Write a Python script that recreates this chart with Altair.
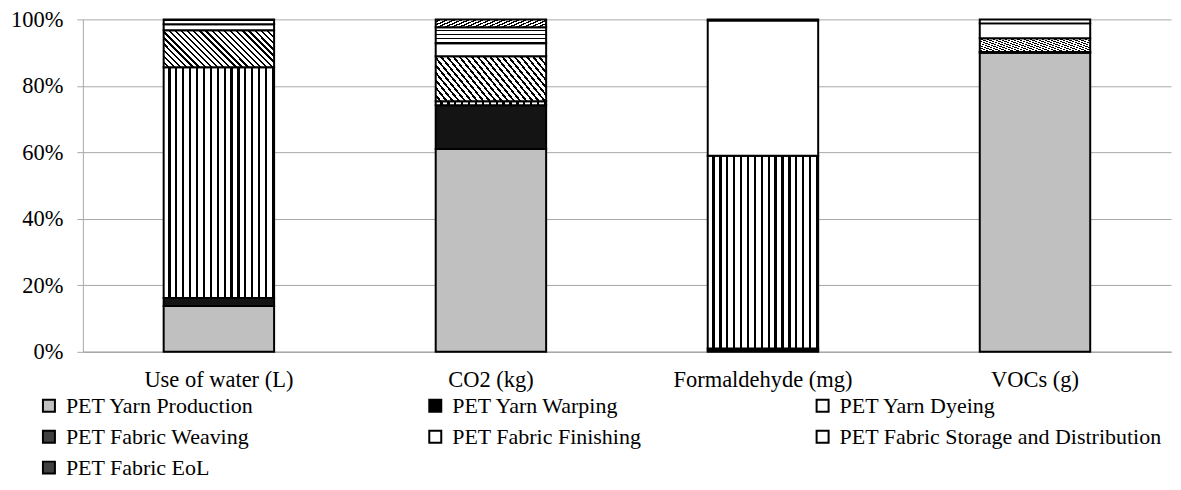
import altair as alt
import pandas as pd

categories = ["Use of water (L)", "CO2 (kg)", "Formaldehyde (mg)", "VOCs (g)"]
series = [
    "PET Yarn Production",
    "PET Yarn Warping",
    "PET Yarn Dyeing",
    "PET Fabric Weaving",
    "PET Fabric Finishing",
    "PET Fabric Storage and Distribution",
    "PET Fabric EoL",
]
production = [13.8, 61.0, 0.4, 90.0]
warping = [2.4, 13.2, 0.6, 0.0]
dyeing = [69.4, 1.2, 58.0, 0.2]
weaving = [11.1, 13.5, 0.0, 4.1]
finishing = [1.8, 3.9, 40.7, 4.5]
storage = [1.5, 4.8, 0.3, 1.2]
eol = [0.0, 2.4, 0.0, 0.0]

values = [production, warping, dyeing, weaving, finishing, storage, eol]
rows = []
for si, (name, vals) in enumerate(zip(series, values)):
    for cat, v in zip(categories, vals):
        if v > 0:
            rows.append({"category": cat, "series": name, "idx": si, "value": v})
df = pd.DataFrame(rows)

legend_colors = ["#c0c0c0", "#000000", "#ffffff", "#404040", "#ffffff", "#ffffff", "#404040"]


def stripes(n, frac, x1, y1, x2, y2, ink="#000000", paper="#ffffff"):
    stops = []
    for i in range(n):
        a = i / n
        b = (i + 1 - frac) / n
        c = (i + 1) / n
        stops += [
            {"offset": a, "color": paper},
            {"offset": b, "color": paper},
            {"offset": b, "color": ink},
            {"offset": c, "color": ink},
        ]
    return {"gradient": "linear", "stops": stops, "x1": x1, "y1": y1, "x2": x2, "y2": y2}


A = 3.0
k = (A + 1) / (A * A + 1)
vertical_lines = stripes(16, 0.33, 0, 0, 1, 0)
back_hatch = stripes(24, 0.38, 0, 1, k * A, 1 - k)
A2 = 6.0
k2 = (A2 + 1) / (A2 * A2 + 1)
fwd_hatch = stripes(18, 0.45, 0, 0, k2 * A2, k2)
horiz_lines = stripes(4, 0.3, 0, 0, 0, 1)

FONT = "Liberation Serif"
GRID = "#a8a8a8"

x_enc = alt.X(
    "category:N",
    sort=categories,
    title=None,
    scale=alt.Scale(paddingInner=0.594, paddingOuter=0.297),
    axis=alt.Axis(labelAngle=0, labelFont=FONT, labelFontSize=22.5, labelColor="#000000",
                  labelPadding=17, ticks=False, domainColor=GRID, domainWidth=1.5),
)
y_enc = alt.Y(
    "value:Q",
    stack="normalize",
    title=None,
    scale=alt.Scale(domain=[0, 1]),
    axis=alt.Axis(format="%", values=[0, 0.2, 0.4, 0.6, 0.8, 1.0], labelFont=FONT,
                  labelFontSize=22.5, labelColor="#000000", labelPadding=14,
                  ticks=True, tickSize=6, tickColor=GRID, tickWidth=1,
                  domain=True, domainColor=GRID, domainWidth=1,
                  gridColor=GRID, gridWidth=1),
)

base = alt.Chart(df).mark_bar().encode(
    x=x_enc,
    y=y_enc,
    color=alt.Color(
        "series:N",
        scale=alt.Scale(domain=series, range=legend_colors),
        legend=alt.Legend(
            title=None,
            orient="none",
            direction="horizontal",
            legendX=-45,
            legendY=376,
            columns=3,
            columnPadding=170,
            rowPadding=9,
            symbolType="square",
            symbolSize=144,
            symbolStrokeColor="#000000",
            symbolStrokeWidth=2,
            labelFont=FONT,
            labelFontSize=22,
            labelColor="#000000",
            labelLimit=400,
            labelOffset=6,
        ),
    ),
    order=alt.Order("idx:Q", sort="ascending"),
)

fill = (
    alt.when(alt.datum.series == series[0]).then(alt.value("#c0c0c0"))
    .when(alt.datum.series == series[1]).then(alt.value("#141414"))
    .when(alt.datum.series == series[2]).then(alt.value(vertical_lines))
    .when(alt.datum.series == series[3]).then(alt.value(back_hatch))
    .when(alt.datum.series == series[4]).then(alt.value("#ffffff"))
    .when(alt.datum.series == series[5]).then(alt.value(horiz_lines))
    .otherwise(alt.value(fwd_hatch))
)

overlay = alt.Chart(df).mark_bar(stroke="#000000", strokeWidth=2).encode(
    x=alt.X("category:N", sort=categories),
    y=alt.Y("value:Q", stack="normalize"),
    detail="series:N",
    fill=fill,
    order=alt.Order("idx:Q", sort="ascending"),
)

chart = (
    alt.layer(base, overlay)
    .properties(width=1090, height=333, padding={"left": 2, "top": 0, "right": 2, "bottom": 0})
    .configure_view(stroke=None)
)

chart.save("out.html", embed_options={"renderer": "svg", "actions": False})
